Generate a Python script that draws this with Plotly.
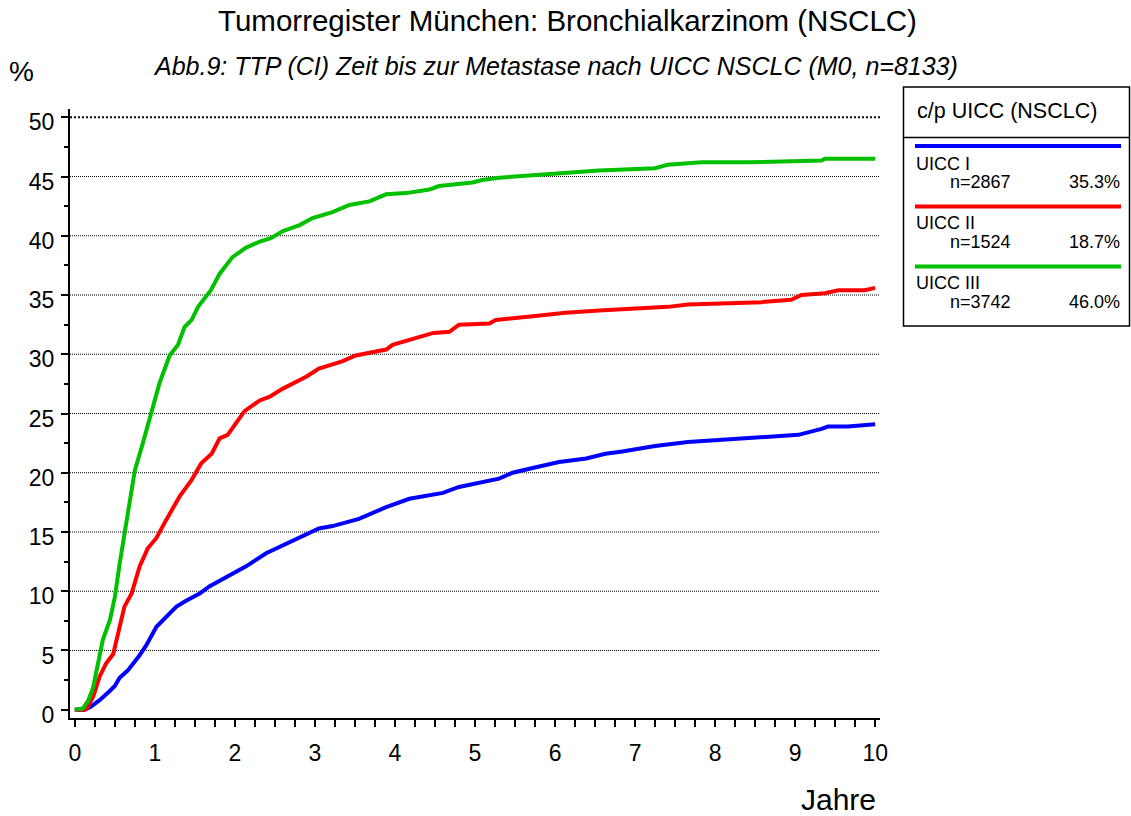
import plotly.graph_objects as go

# ---------------- data ----------------
blue_t = [0, 0.12, 0.19, 0.31, 0.44, 0.5, 0.56, 0.66, 0.81, 0.89, 1.02, 1.27, 1.39, 1.56, 1.68, 1.89,
          2.14, 2.39, 2.64, 2.84, 3.05, 3.22, 3.55, 3.89, 4.18, 4.6, 4.8, 5.3, 5.47, 5.72, 6.05, 6.39,
          6.63, 6.84, 7.25, 7.66, 8.08, 8.66, 9.04, 9.33, 9.41, 9.66, 10.0]
blue_v = [0, 0, 0.2, 0.8, 1.6, 2.0, 2.7, 3.3, 4.6, 5.4, 7.0, 8.7, 9.2, 9.8, 10.4, 11.2,
          12.1, 13.2, 14.0, 14.7, 15.3, 15.5, 16.1, 17.1, 17.8, 18.3, 18.8, 19.5, 20.0, 20.4, 20.9, 21.2,
          21.6, 21.8, 22.25, 22.6, 22.8, 23.0, 23.2, 23.7, 23.9, 23.9, 24.1]

red_t = [0, 0.12, 0.15, 0.23, 0.31, 0.39, 0.48, 0.54, 0.62, 0.71, 0.81, 0.91, 1.02, 1.14, 1.31, 1.46,
         1.58, 1.71, 1.81, 1.91, 2.02, 2.12, 2.31, 2.43, 2.6, 2.77, 2.89, 3.05, 3.34, 3.51, 3.89, 3.97,
         4.18, 4.48, 4.68, 4.8, 5.18, 5.26, 5.72, 6.13, 6.55, 6.84, 7.41, 7.66, 8.37, 8.58, 8.95, 9.08,
         9.37, 9.54, 9.87, 10.0]
red_v = [0, 0, 0.1, 1.1, 2.8, 3.9, 4.7, 6.4, 8.7, 9.8, 12.1, 13.6, 14.5, 16.0, 18.0, 19.4,
         20.8, 21.6, 22.9, 23.2, 24.2, 25.2, 26.1, 26.4, 27.1, 27.7, 28.1, 28.8, 29.4, 29.9, 30.4, 30.8,
         31.2, 31.8, 31.9, 32.5, 32.6, 32.9, 33.2, 33.5, 33.7, 33.8, 34.0, 34.2, 34.3, 34.4, 34.6, 35.0,
         35.15, 35.4, 35.4, 35.6]

green_t = [0, 0.1, 0.17, 0.23, 0.29, 0.35, 0.44, 0.5, 0.56, 0.645, 0.75, 0.85, 0.956, 1.06, 1.185, 1.29,
           1.37, 1.46, 1.54, 1.70, 1.81, 1.97, 2.14, 2.31, 2.45, 2.6, 2.81, 2.97, 3.22, 3.43, 3.68, 3.89,
           4.14, 4.43, 4.55, 4.97, 5.09, 5.3, 5.72, 6.13, 6.3, 6.55, 7.25, 7.41, 7.83, 8.42, 9.33, 9.37, 10.0]
green_v = [0, 0.1, 0.8, 1.9, 3.9, 5.9, 7.6, 9.5, 12.3, 15.9, 20.2, 22.5, 25.2, 27.6, 29.9, 30.8,
           32.3, 32.9, 34.0, 35.4, 36.8, 38.2, 39.0, 39.5, 39.8, 40.4, 40.9, 41.5, 42.0, 42.6, 42.9, 43.5,
           43.6, 43.9, 44.2, 44.5, 44.7, 44.9, 45.1, 45.3, 45.4, 45.5, 45.7, 46.0, 46.2, 46.2, 46.35, 46.5, 46.5]

series_names = ["UICC I", "UICC II", "UICC III"]
series_n = ["n=2867", "n=1524", "n=3742"]
series_pct = ["35.3%", "18.7%", "46.0%"]
series_colors = ["#0000FF", "#FF0000", "#00C000"]

x_ticks = list(range(0, 11))
y_ticks = list(range(0, 51, 5))
y_grid = list(range(5, 46, 5))

title = "Tumorregister München: Bronchialkarzinom (NSCLC)"
subtitle = "Abb.9: TTP (CI) Zeit bis zur Metastase nach UICC NSCLC (M0, n=8133)"
legend_title = "c/p UICC (NSCLC)"

# ---------------- layout geometry ----------------
W_FIG, H_FIG = 1131, 816
L, R, T, B = 70, 880, 109, 718  # plot area in pixels
PW, PH = R - L, B - T


def px(x):
    return (x - L) / PW


def py(y):
    return (B - y) / PH


FONT = "Liberation Sans, Arial, sans-serif"

fig = go.Figure()
for t, v, name, col in zip([blue_t, red_t, green_t], [blue_v, red_v, green_v], series_names, series_colors):
    fig.add_trace(go.Scatter(x=t, y=v, mode="lines", name=name,
                             line=dict(color=col, width=4), showlegend=False))

shapes = []
for g in y_grid:
    shapes.append(dict(type="line", xref="paper", yref="y", x0=0, x1=1, y0=g, y1=g,
                       line=dict(color="#000000", width=1, dash="1px,1px"), layer="below"))
shapes.append(dict(type="line", xref="paper", yref="y", x0=0, x1=1, y0=50, y1=50,
                   line=dict(color="#000000", width=2, dash="2px,2px"), layer="below"))

# legend box
shapes.append(dict(type="rect", xref="paper", yref="paper", x0=px(903.5), x1=px(1129.5),
                   y0=py(326), y1=py(87), line=dict(color="black", width=1.5)))
shapes.append(dict(type="line", xref="paper", yref="paper", x0=px(903.5), x1=px(1129.5),
                   y0=py(137.5), y1=py(137.5), line=dict(color="black", width=1.5)))

annotations = [
    dict(text=title, x=px(567), y=py(21), xref="paper", yref="paper", showarrow=False,
         xanchor="center", yanchor="middle", font=dict(size=29.5, family=FONT, color="black")),
    dict(text="<i>" + subtitle + "</i>", x=px(555), y=py(66), xref="paper", yref="paper",
         showarrow=False, xanchor="center", yanchor="middle",
         font=dict(size=25, family=FONT, color="black")),
    dict(text="%", x=px(21), y=py(71), xref="paper", yref="paper", showarrow=False,
         xanchor="center", yanchor="middle", font=dict(size=28, family=FONT, color="black")),
    dict(text="Jahre", x=px(878), y=py(799), xref="paper", yref="paper", showarrow=False,
         xanchor="right", yanchor="middle", font=dict(size=30, family=FONT, color="black")),
    dict(text=legend_title, x=px(915), y=py(111), xref="paper", yref="paper", showarrow=False,
         xanchor="left", yanchor="middle", font=dict(size=21.5, family=FONT, color="black")),
]

line_y = [146, 206.5, 266.5]
name_y = [164, 222.5, 283]
n_y = [181.5, 241.5, 301.5]
for i in range(3):
    shapes.append(dict(type="line", xref="paper", yref="paper", x0=px(915), x1=px(1121),
                       y0=py(line_y[i]), y1=py(line_y[i]),
                       line=dict(color=series_colors[i], width=4)))
    annotations.append(dict(text=series_names[i], x=px(914), y=py(name_y[i]), xref="paper", yref="paper",
                            showarrow=False, xanchor="left", yanchor="middle",
                            font=dict(size=18, family=FONT, color="black")))
    annotations.append(dict(text=series_n[i], x=px(948), y=py(n_y[i]), xref="paper", yref="paper",
                            showarrow=False, xanchor="left", yanchor="middle",
                            font=dict(size=18, family=FONT, color="black")))
    annotations.append(dict(text=series_pct[i], x=px(1122), y=py(n_y[i]), xref="paper", yref="paper",
                            showarrow=False, xanchor="right", yanchor="middle",
                            font=dict(size=18, family=FONT, color="black")))

x0_val = -0.06
x1_val = 10.06
y0_val = -0.7
y1_val = 50.7

fig.update_layout(
    width=W_FIG, height=H_FIG,
    margin=dict(l=L, r=W_FIG - R, t=T, b=H_FIG - B, pad=0),
    paper_bgcolor="white", plot_bgcolor="white",
    shapes=shapes, annotations=annotations,
    font=dict(family=FONT, color="black"),
    xaxis=dict(range=[x0_val, x1_val], tickvals=x_ticks, ticktext=[str(v) for v in x_ticks],
               showgrid=False, zeroline=False, showline=True, linecolor="black", linewidth=2,
               ticks="outside", ticklen=7, tickwidth=1.5, tickcolor="black",
               ticklabelstandoff=6,
               tickfont=dict(size=23, family=FONT, color="black"),
               minor=dict(dtick=0.25, tick0=0, ticks="outside", ticklen=7, tickwidth=1.5,
                          tickcolor="black", showgrid=False)),
    yaxis=dict(range=[y0_val, y1_val], tickvals=y_ticks, ticktext=[str(v) for v in y_ticks],
               showgrid=False, zeroline=False, showline=True, linecolor="black", linewidth=2,
               ticks="outside", ticklen=7, tickwidth=1.5, tickcolor="black",
               ticklabelshift=5, ticklabelstandoff=2,
               tickfont=dict(size=23, family=FONT, color="black"),
               minor=dict(dtick=2.5, tick0=0, ticks="outside", ticklen=4, tickwidth=1.5,
                          tickcolor="black", showgrid=False)),
)

fig.write_html("out.html", config={"displayModeBar": False},
               post_script="document.body.style.margin='0px';")
